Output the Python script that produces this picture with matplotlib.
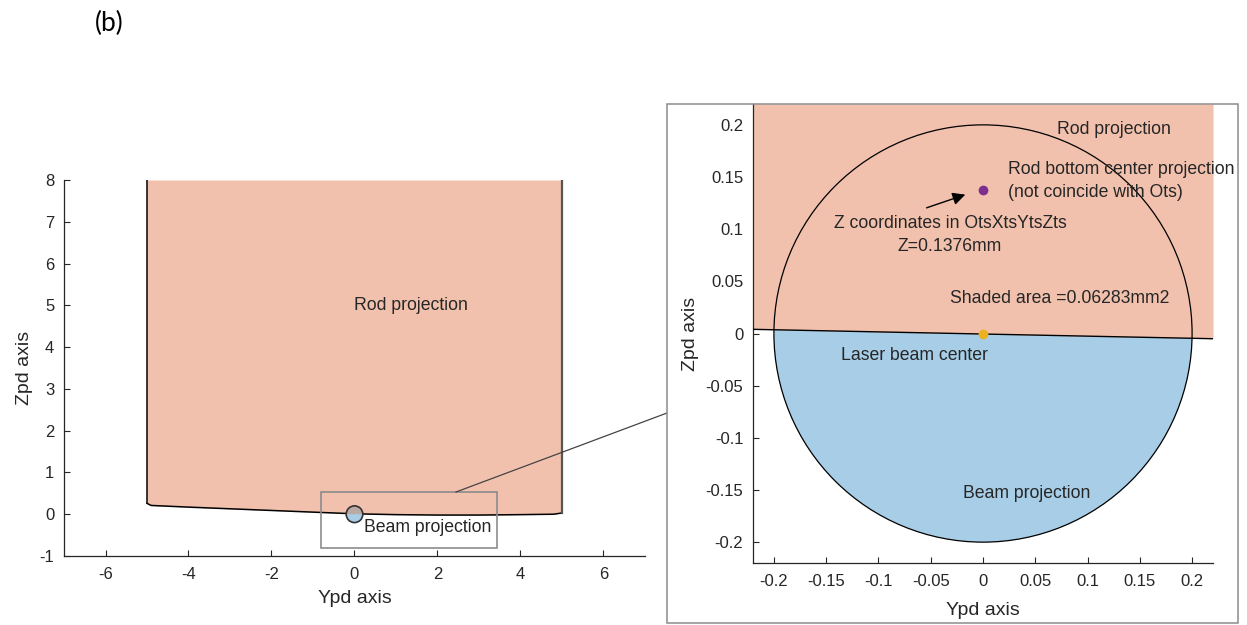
"""
Rod / laser beam projection figure, panel (b).
Left: full rod projection with beam, right: zoom on the beam region.
"""

import matplotlib

matplotlib.use("Agg")
import matplotlib.pyplot as plt
from matplotlib.patches import Circle, Wedge, Rectangle, ConnectionPatch

# -------------------------------------------------------------------
# Data
# -------------------------------------------------------------------

# rod bottom edge in the overview panel (Ypd, Zpd)
ROD_X = [-5, -4.9, -4, -3, -2, -1, 0, 1, 2, 3, 4, 4.8, 5]
ROD_BOTTOM = [0.26, 0.21, 0.17, 0.13, 0.09, 0.05, 0.01, -0.01, -0.02, -0.02, -0.01, 0.0, 0.03]
ROD_TOP = 8

# rod bottom edge inside the zoom panel
ZOOM_EDGE_X = [-0.22, 0.22]
ZOOM_EDGE_Z = [0.004, -0.005]

BEAM_RADIUS = 0.2
BEAM_CENTER = (0.0, 0.0)
ROD_CENTER = (0.0, 0.1376)
SHADED_AREA = 0.06283

# zoom window drawn on the overview
ZOOM_BOX_X = [-0.81, 3.44]
ZOOM_BOX_Z = [-0.81, 0.53]

LEFT_XTICKS = [-6, -4, -2, 0, 2, 4, 6]
LEFT_YTICKS = [-1, 0, 1, 2, 3, 4, 5, 6, 7, 8]
RIGHT_TICKS = [-0.2, -0.15, -0.1, -0.05, 0, 0.05, 0.1, 0.15, 0.2]
RIGHT_TICK_LABELS = ["-0.2", "-0.15", "-0.1", "-0.05", "0", "0.05", "0.1", "0.15", "0.2"]

# -------------------------------------------------------------------
# Style
# -------------------------------------------------------------------

ROD_COLOR = "#F1C1AD"
BEAM_COLOR = "#A7CDE7"
INK = "#262626"
FRAME = "#8C8C8C"
TEXT_SIZE = 12.7
LABEL_SIZE = 14

plt.rcParams["font.family"] = ["Liberation Sans", "DejaVu Sans"]
plt.rcParams["axes.unicode_minus"] = False

W, H = 1247, 625


def fig_rect(x0, y0, x1, y1):
    """Pixel box (top-left origin) -> figure fraction [l, b, w, h]."""
    return [x0 / W, 1 - y1 / H, (x1 - x0) / W, (y1 - y0) / H]


def style_axes(ax):
    for side in ("top", "right"):
        ax.spines[side].set_visible(False)
    for side in ("left", "bottom"):
        ax.spines[side].set_color(INK)
        ax.spines[side].set_linewidth(0.9)
    ax.tick_params(direction="in", length=4, width=0.8, color=INK,
                   labelcolor=INK, labelsize=12)
    ax.tick_params(axis="x", pad=8)
    ax.tick_params(axis="y", pad=7)


def draw_overview(fig):
    ax = fig.add_axes(fig_rect(64, 180, 645, 556))
    style_axes(ax)

    ax.fill_between(ROD_X, ROD_BOTTOM, ROD_TOP, color=ROD_COLOR, lw=0, zorder=1)
    ax.plot(ROD_X, ROD_BOTTOM, color="black", lw=1.1, zorder=2)
    ax.plot([ROD_X[0], ROD_X[0]], [ROD_BOTTOM[0], ROD_TOP], color="black", lw=1.1, zorder=2)
    ax.plot([ROD_X[-1], ROD_X[-1]], [ROD_BOTTOM[-1], ROD_TOP], color="#555555", lw=1.6, zorder=2)

    # beam spot
    ax.add_patch(Circle(BEAM_CENTER, BEAM_RADIUS, facecolor=BEAM_COLOR, lw=0, zorder=3))
    ax.add_patch(Wedge(BEAM_CENTER, BEAM_RADIUS, 0, 180, facecolor="#BBA9A4", lw=0, zorder=3))
    ax.add_patch(Circle(BEAM_CENTER, BEAM_RADIUS, fill=False, edgecolor="#333333",
                        lw=1.2, zorder=4))

    ax.add_patch(Rectangle((ZOOM_BOX_X[0], ZOOM_BOX_Z[0]),
                           ZOOM_BOX_X[1] - ZOOM_BOX_X[0], ZOOM_BOX_Z[1] - ZOOM_BOX_Z[0],
                           fill=False, edgecolor=FRAME, lw=1.2, zorder=5))

    ax.text(0, 5, "Rod projection", fontsize=TEXT_SIZE, color=INK, va="center")
    ax.text(0.24, -0.31, "Beam projection", fontsize=TEXT_SIZE, color=INK, va="center")

    ax.set_xlim(-7, 7)
    ax.set_ylim(-1, 8)
    ax.set_xticks(LEFT_XTICKS, [str(t) for t in LEFT_XTICKS])
    ax.set_yticks(LEFT_YTICKS, [str(t) for t in LEFT_YTICKS])
    ax.set_xlabel("Ypd axis", fontsize=LABEL_SIZE, color=INK, labelpad=6)
    ax.set_ylabel("Zpd axis", fontsize=LABEL_SIZE, color=INK, labelpad=5)
    return ax


def draw_zoom(fig):
    ax = fig.add_axes(fig_rect(753, 104, 1213, 563))
    style_axes(ax)

    ax.add_patch(Circle(BEAM_CENTER, BEAM_RADIUS, facecolor=BEAM_COLOR, lw=0, zorder=1))
    ax.fill_between(ZOOM_EDGE_X, ZOOM_EDGE_Z, 0.22, color=ROD_COLOR, lw=0, zorder=2)
    ax.plot(ZOOM_EDGE_X, ZOOM_EDGE_Z, color="black", lw=1.0, zorder=3)
    ax.add_patch(Circle(BEAM_CENTER, BEAM_RADIUS, fill=False, edgecolor="black",
                        lw=0.9, zorder=3))

    ax.plot(*ROD_CENTER, "o", color="#7E2F8E", ms=6, zorder=4)
    ax.plot(*BEAM_CENTER, "o", color="#EDB120", ms=6, zorder=4)

    ax.annotate("", xy=(-0.0144, 0.134), xytext=(-0.0565, 0.1196),
                arrowprops=dict(arrowstyle="-|>", color="black", lw=1.0,
                                mutation_scale=19), zorder=4)

    kw = dict(fontsize=TEXT_SIZE, color=INK, va="center")
    ax.text(0.071, 0.196, "Rod projection", **kw)
    ax.text(0.024, 0.146, "Rod bottom center projection\n(not coincide with Ots)",
            linespacing=1.45, **kw)
    ax.text(-0.0316, 0.0947, f"Z coordinates in OtsXtsYtsZts\nZ={ROD_CENTER[1]}mm",
            ha="center", linespacing=1.45, **kw)
    ax.text(-0.0316, 0.0335, f"Shaded area ={SHADED_AREA}mm2", **kw)
    ax.text(-0.136, -0.021, "Laser beam center", **kw)
    ax.text(-0.019, -0.153, "Beam projection", **kw)

    ax.set_xlim(-0.22, 0.22)
    ax.set_ylim(-0.22, 0.22)
    ax.set_xticks(RIGHT_TICKS, RIGHT_TICK_LABELS)
    ax.set_yticks(RIGHT_TICKS, RIGHT_TICK_LABELS)
    ax.set_xlabel("Ypd axis", fontsize=LABEL_SIZE, color=INK, labelpad=9)
    ax.set_ylabel("Zpd axis", fontsize=LABEL_SIZE, color=INK, labelpad=5)
    return ax


def main():
    fig = plt.figure(figsize=(W / 100, H / 100), dpi=100)

    ax_left = draw_overview(fig)
    draw_zoom(fig)

    # frame around the zoom panel
    l, b, w, h = fig_rect(667, 104, 1238, 623)
    fig.add_artist(Rectangle((l, b), w, h, transform=fig.transFigure, fill=False,
                             edgecolor=FRAME, lw=1.1, zorder=10))

    # connector from the zoom window to the frame
    con = ConnectionPatch(xyA=(2.44, ZOOM_BOX_Z[1]), coordsA=ax_left.transData,
                          xyB=(667 / W, 1 - 413 / H), coordsB=fig.transFigure,
                          color="#444444", lw=0.9)
    fig.add_artist(con)

    fig.text(95 / W, 1 - 23 / H, "(b)", fontsize=19, family=["Lato", "DejaVu Sans"],
             va="center", ha="left")

    fig.savefig("out.png", dpi=100)
    plt.close(fig)


if __name__ == "__main__":
    main()
